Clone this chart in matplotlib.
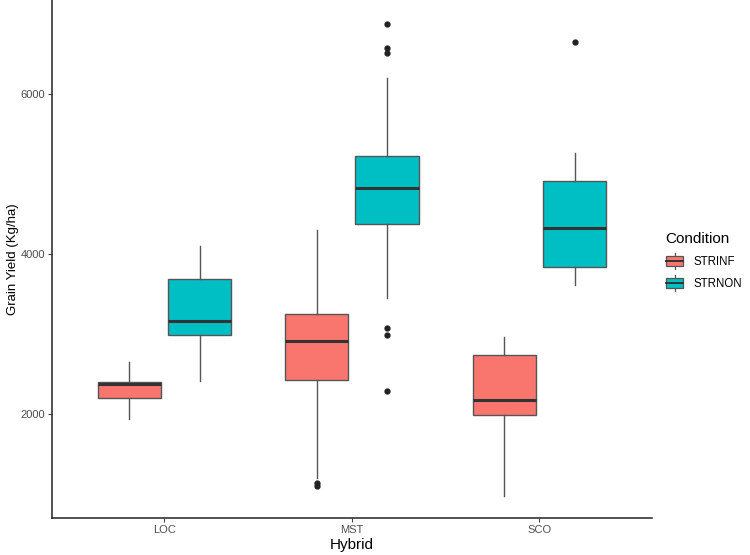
import matplotlib
matplotlib.use('Agg')
import matplotlib.pyplot as plt
from matplotlib.patches import Rectangle
from matplotlib.lines import Line2D
from matplotlib.legend_handler import HandlerBase

plt.rcParams['font.family'] = ['Liberation Sans', 'DejaVu Sans']

hybrids = ['LOC', 'MST', 'SCO']
conditions = ['STRINF', 'STRNON']
colors = ['#F8766D', '#00BFC4']

# box summaries: [low whisker, Q1, median, Q3, high whisker]
strinf_stats = [[1938, 2200, 2375, 2400, 2650],
                [1200, 2425, 2913, 3250, 4300],
                [970, 1990, 2180, 2740, 2960]]
strnon_stats = [[2413, 2988, 3163, 3688, 4100],
                [3450, 4375, 4825, 5225, 6200],
                [3613, 3838, 4325, 4913, 5263]]
strinf_fliers = [[], [1105, 1140], []]
strnon_fliers = [[], [2290, 2988, 3075, 6510, 6580, 6875], [6650]]


def to_bxp(stats, fliers):
    out = []
    for s, f in zip(stats, fliers):
        out.append(dict(whislo=s[0], q1=s[1], med=s[2], q3=s[3], whishi=s[4], fliers=f))
    return out


class BoxKey(HandlerBase):
    def __init__(self, color):
        super().__init__()
        self.color = color

    def create_artists(self, legend, orig_handle, xdescent, ydescent,
                       width, height, fontsize, trans):
        x0, y0 = -xdescent, -ydescent
        xm = x0 + width / 2
        rect = Rectangle((x0 + 1, y0 + height * 0.15), width - 2, height * 0.7,
                         facecolor=self.color, edgecolor='#555555', lw=0.9, transform=trans)
        med = Line2D([x0 + 1, x0 + width - 1], [y0 + height / 2] * 2,
                     color='#333333', lw=1.4, transform=trans)
        w1 = Line2D([xm, xm], [y0 - height * 0.1, y0 + height * 0.15], color='#555555', lw=0.9, transform=trans)
        w2 = Line2D([xm, xm], [y0 + height * 0.85, y0 + height * 1.1], color='#555555', lw=0.9, transform=trans)
        return [w1, w2, rect, med]


fig = plt.figure(figsize=(7.5, 5.55), dpi=100)
ax = fig.add_axes([0.0693, 0.0667, 0.8, 0.9333])

offsets = [-0.1875, 0.1875]
all_stats = [(strinf_stats, strinf_fliers), (strnon_stats, strnon_fliers)]
for k, (stats, fliers) in enumerate(all_stats):
    pos = [i + 1 + offsets[k] for i in range(len(hybrids))]
    ax.bxp(to_bxp(stats, fliers), positions=pos, widths=0.3375, patch_artist=True,
           showcaps=False,
           boxprops=dict(facecolor=colors[k], edgecolor='#555555', linewidth=1.0),
           medianprops=dict(color='#333333', linewidth=2.2),
           whiskerprops=dict(color='#555555', linewidth=1.0),
           flierprops=dict(marker='o', markerfacecolor='#222222', markeredgecolor='#222222',
                           markersize=3.5, linestyle='none'))

ax.set_xlim(0.4, 3.6)
ax.set_ylim(700, 7175)
ax.set_xticks([1, 2, 3])
ax.set_xticklabels(hybrids)
ax.set_yticks([2000, 4000, 6000])
ax.set_yticklabels(['2000', '4000', '6000'])
ax.tick_params(colors='#444444', labelsize=8, length=3, width=0.8, pad=2)
ax.tick_params(axis='x', labelcolor='#4D4D4D')
ax.tick_params(axis='y', labelcolor='#4D4D4D')
for side in ['top', 'right']:
    ax.spines[side].set_visible(False)
for side in ['left', 'bottom']:
    ax.spines[side].set_color('#222222')
    ax.spines[side].set_linewidth(1.1)

ax.set_xlabel('Hybrid', fontsize=11, labelpad=2)
ax.set_ylabel('Grain Yield (Kg/ha)', fontsize=9.5)
ax.yaxis.set_label_coords(-0.055, 0.5)

handles = [Rectangle((0, 0), 1, 1), Rectangle((0, 0), 1, 1)]
leg = fig.legend(handles, conditions, title='Condition', loc='upper left',
                 bbox_to_anchor=(0.876, 0.596), frameon=False, fontsize=8.3,
                 title_fontsize=11, alignment='left', handlelength=1.7,
                 handleheight=1.45, labelspacing=0.7, handletextpad=0.8,
                 borderaxespad=0.3,
                 handler_map={handles[0]: BoxKey(colors[0]), handles[1]: BoxKey(colors[1])})

fig.savefig('out.png', dpi=100)
